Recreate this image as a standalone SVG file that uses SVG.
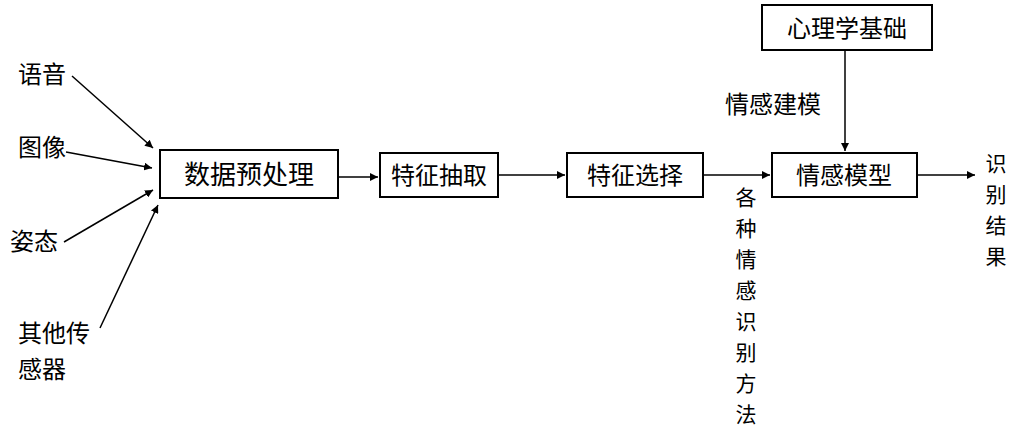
<svg xmlns="http://www.w3.org/2000/svg" width="1025" height="444" viewBox="0 0 1025 444">
<style>
text{font-family:"Noto Sans CJK SC","Noto Sans",sans-serif;font-size:24px;fill:#000}
.v text{font-size:21px}
.b{fill:#fff;stroke:#000;stroke-width:2}
.c line{stroke:#000;stroke-width:1.5;marker-end:url(#a)}
</style>
<defs><marker id="a" viewBox="0 0 10 10" refX="10" refY="5" markerWidth="8" markerHeight="8" orient="auto" markerUnits="userSpaceOnUse"><path d="M0,0L10,5L0,10z" fill="#000"/></marker></defs>
<rect width="1025" height="444" fill="#fff"/>
<g id="in1"><text x="18" y="83">语音</text></g>
<g id="in2"><text x="18" y="156">图像</text></g>
<g id="in3"><text x="10" y="250">姿态</text></g>
<g id="in4"><text x="18" y="342">其他传</text><text x="18" y="378">感器</text></g>
<g id="n1"><rect class="b" x="160" y="150" width="178" height="48"/><text x="249" y="184" text-anchor="middle" style="font-size:26px">数据预处理</text></g>
<g id="n2"><rect class="b" x="380" y="153" width="118" height="44"/><text x="439" y="184" text-anchor="middle">特征抽取</text></g>
<g id="n3"><rect class="b" x="567" y="153" width="136" height="44"/><text x="635" y="184" text-anchor="middle">特征选择</text></g>
<g id="n4"><rect class="b" x="772" y="153" width="145" height="44"/><text x="844" y="184" text-anchor="middle">情感模型</text></g>
<g id="n5"><rect class="b" x="762" y="5" width="170" height="45"/><text x="847" y="37" text-anchor="middle">心理学基础</text></g>
<g id="lbl1"><text x="725" y="113">情感建模</text></g>
<g id="lbl2" class="v"><text x="746" y="205" text-anchor="middle">各</text><text x="746" y="236" text-anchor="middle">种</text><text x="746" y="267" text-anchor="middle">情</text><text x="746" y="298" text-anchor="middle">感</text><text x="746" y="329" text-anchor="middle">识</text><text x="746" y="360" text-anchor="middle">别</text><text x="746" y="391" text-anchor="middle">方</text><text x="746" y="422" text-anchor="middle">法</text></g>
<g id="out" class="v"><text x="996" y="171" text-anchor="middle">识</text><text x="996" y="202" text-anchor="middle">别</text><text x="996" y="233" text-anchor="middle">结</text><text x="996" y="264" text-anchor="middle">果</text></g>
<g class="c">
<line x1="72" y1="76" x2="153" y2="148"/>
<line x1="66" y1="152" x2="152" y2="168"/>
<line x1="64" y1="242" x2="153" y2="190"/>
<line x1="100" y1="328" x2="158" y2="205"/>
<line x1="338" y1="177" x2="378" y2="177"/>
<line x1="498" y1="175" x2="565" y2="175"/>
<line x1="703" y1="175" x2="770" y2="175"/>
<line x1="845" y1="50" x2="845" y2="151"/>
<line x1="917" y1="175" x2="975" y2="175"/>
</g>
</svg>
